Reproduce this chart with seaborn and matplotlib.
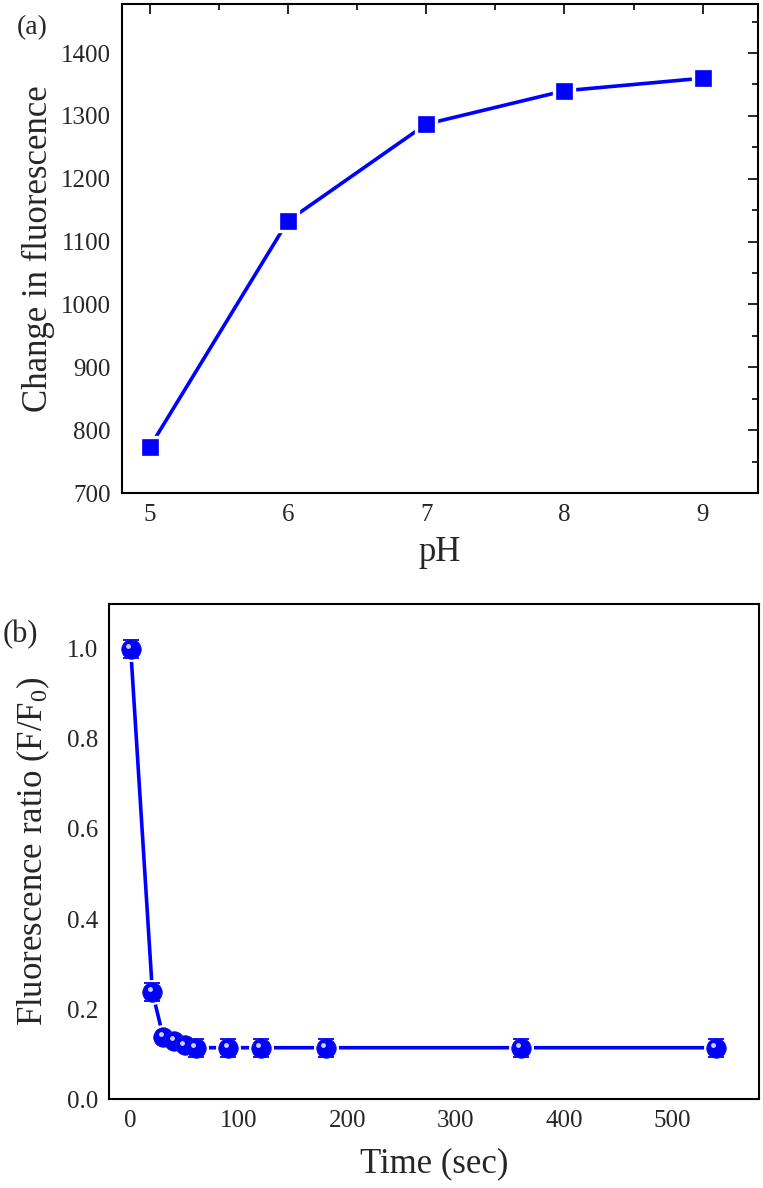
import numpy as np
import pandas as pd
import matplotlib
matplotlib.use("Agg")
import matplotlib.pyplot as plt
from matplotlib.ticker import MultipleLocator
import seaborn as sns

# panel (a): pH dependence
ph = [5, 6, 7, 8, 9]
fluo_change = [773, 1133, 1287, 1340, 1360]

# panel (b): time course
time_sec = [0, 20, 30, 40, 50, 60, 90, 120, 180, 360, 540]
ratio = [1.0, 0.238, 0.138, 0.129, 0.120, 0.114, 0.114, 0.114, 0.114, 0.114, 0.114]
ratio_err = [0.02, 0.02, 0.0, 0.0, 0.0, 0.02, 0.02, 0.02, 0.02, 0.02, 0.02]

sns.set_style("white")
plt.rcParams['font.family'] = ['Liberation Serif', 'DejaVu Serif']
plt.rcParams['mathtext.fontset'] = 'custom'
plt.rcParams['mathtext.rm'] = 'Liberation Serif'
plt.rcParams['mathtext.it'] = 'Liberation Serif:italic'

BLUE = '#0000ff'
fig = plt.figure(figsize=(7.63, 11.88), dpi=100)
ax1 = fig.add_axes([0.160, 0.585, 0.8334, 0.4116])
ax2 = fig.add_axes([0.1429, 0.0749, 0.8519, 0.4167])

df_a = pd.DataFrame({'pH': ph, 'change': fluo_change})
sns.lineplot(data=df_a, x='pH', y='change', ax=ax1, color=BLUE, lw=2.6,
             marker='s', markersize=15, markeredgecolor='white',
             markeredgewidth=2.4, markerfacecolor=BLUE)
ax1.set_xlim(4.8, 9.4)
ax1.set_ylim(700, 1478)
ax1.xaxis.set_major_locator(MultipleLocator(1))
ax1.xaxis.set_minor_locator(MultipleLocator(0.5))
ax1.yaxis.set_major_locator(MultipleLocator(100))
ax1.yaxis.set_minor_locator(MultipleLocator(50))
ax1.tick_params(which='both', direction='in', top=True, right=True,
                labelsize=18, width=1.4, pad=8)
ax1.tick_params(which='major', length=7)
ax1.tick_params(which='minor', length=4)
ax1.set_xlabel('pH', fontsize=25)
ax1.set_ylabel('Change in fluorescence', fontsize=25)
ax1.xaxis.set_label_coords(0.5, -0.088)
ax1.yaxis.set_label_coords(-0.106, 0.5)
fig.text(32 / 763, 1 - 28 / 1188, '(a)', fontsize=20, ha='center', va='center')

df_b = pd.DataFrame({'time': time_sec, 'ratio': ratio})
sns.lineplot(data=df_b, x='time', y='ratio', ax=ax2, color=BLUE, lw=2.6,
             marker='o', markersize=16, markeredgecolor='white',
             markeredgewidth=2.0, markerfacecolor=BLUE)
ax2.errorbar(time_sec, ratio, yerr=ratio_err, fmt='none', ecolor=BLUE,
             elinewidth=1.3, capsize=5.5, capthick=1.3, zorder=4)
# sphere look: solid ball plus a small light highlight
ax2.plot(time_sec, ratio, ls='none', marker='o', markersize=14,
         markerfacecolor=BLUE, markeredgecolor='#1a1ad0', markeredgewidth=0.6,
         zorder=5)
ax2.plot(time_sec, ratio, ls='none', marker='o', markersize=3.5,
         markerfacecolor='#d0d0ff', markeredgewidth=0, zorder=6,
         transform=ax2.transData + matplotlib.transforms.ScaledTranslation(
             -2.5 / 100, 2.5 / 100, fig.dpi_scale_trans))
ax2.set_xlim(-20, 580)
ax2.set_ylim(0, 1.1)
ax2.xaxis.set_major_locator(MultipleLocator(100))
ax2.xaxis.set_minor_locator(MultipleLocator(50))
ax2.yaxis.set_major_locator(MultipleLocator(0.2))
ax2.yaxis.set_minor_locator(MultipleLocator(0.1))
ax2.yaxis.set_major_formatter(matplotlib.ticker.FormatStrFormatter('%.1f'))
ax2.tick_params(which='both', direction='in', labelsize=18, width=1.4, pad=8)
ax2.tick_params(which='major', length=7)
ax2.tick_params(which='minor', length=4)
ax2.set_xlabel('Time (sec)', fontsize=25)
ax2.set_ylabel(r'Fluorescence ratio (F/F$_0$)', fontsize=25)
ax2.xaxis.set_label_coords(0.5, -0.098)
ax2.yaxis.set_label_coords(-0.088, 0.5)
fig.text(20 / 763, 1 - 635 / 1188, '(b)', fontsize=22, ha='center', va='center')

for ax in (ax1, ax2):
    for s in ax.spines.values():
        s.set_linewidth(1.5)
        s.set_color('black')
        s.set_visible(True)

fig.savefig('out.png', dpi=100)
